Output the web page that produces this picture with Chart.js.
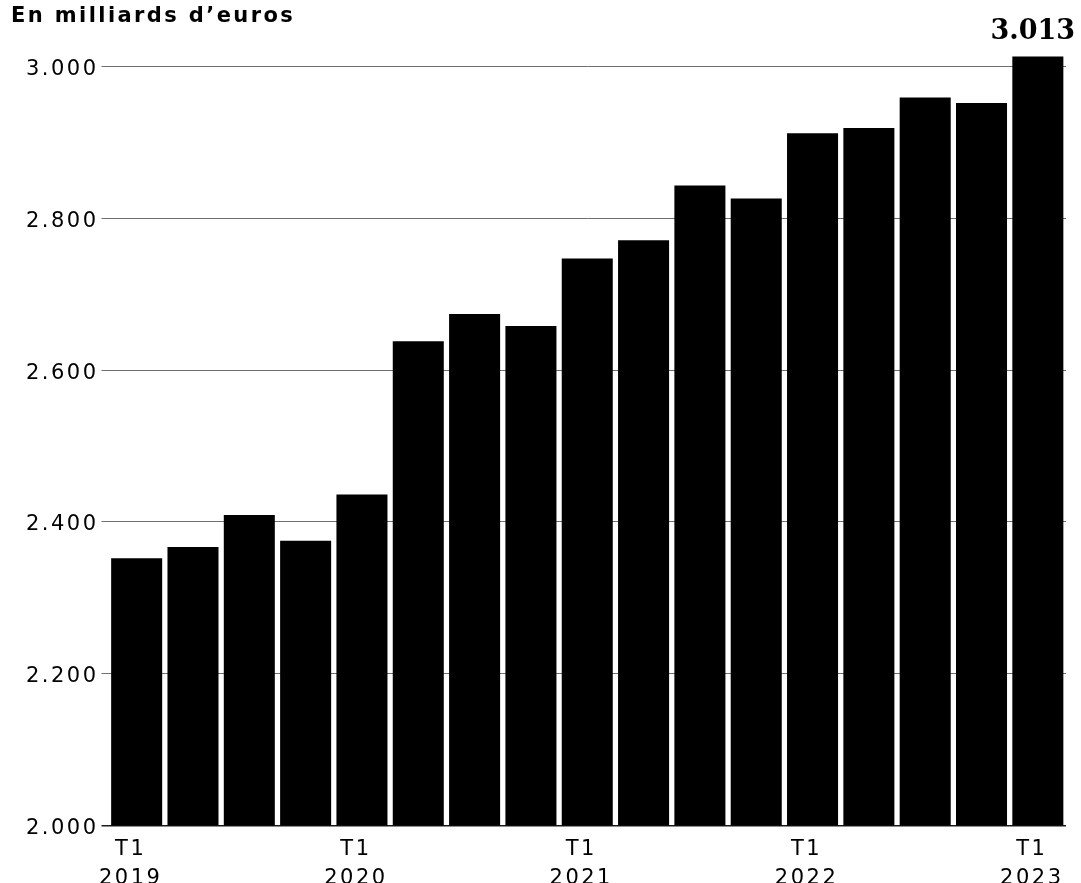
<!DOCTYPE html>
<html>
<head>
<meta charset="utf-8">
<script src="https://cdn.jsdelivr.net/npm/chart.js@4/dist/chart.umd.min.js"></script>
<style>
  html, body { margin: 0; padding: 0; background: #fff; }
  #wrap { width: 1081px; height: 883px; position: relative; }
</style>
</head>
<body>
<div id="wrap"><canvas id="c" width="1081" height="883"></canvas></div>
<script>
const quarters = ['T1','T2','T3','T4','T1','T2','T3','T4','T1','T2','T3','T4','T1','T2','T3','T4','T1'];
const years = ['2019','2019','2019','2019','2020','2020','2020','2020','2021','2021','2021','2021','2022','2022','2022','2022','2023'];
const values = [2352, 2367, 2409, 2375, 2436, 2638, 2674, 2658, 2747, 2771, 2843, 2826, 2912, 2919, 2959, 2952, 3013];
const yTicks = [2000, 2200, 2400, 2600, 2800, 3000];
const titleText = 'En milliards d\u2019euros';

const labels = quarters.map((q, i) => q + ' ' + years[i]);

function fmt(v) {
  return String(Math.round(v)).replace(/\B(?=(\d{3})+(?!\d))/g, '.');
}

const spacingPlugin = {
  id: 'spacing',
  beforeDraw(chart) { chart.ctx.letterSpacing = '2.5px'; },
  beforeDatasetsDraw(chart) { chart.ctx.letterSpacing = '0px'; }
};

const annotPlugin = {
  id: 'annot',
  afterDraw(chart) {
    const ctx = chart.ctx;
    ctx.save();
    // title
    ctx.letterSpacing = '2.4px';
    ctx.fillStyle = '#000';
    ctx.font = 'bold 21px "DejaVu Sans"';
    ctx.textAlign = 'left';
    ctx.textBaseline = 'alphabetic';
    ctx.fillText(titleText, 11, 22);
    // last value label
    const meta = chart.getDatasetMeta(0);
    const last = meta.data[meta.data.length - 1];
    ctx.letterSpacing = '0px';
    ctx.font = 'bold 27px "DejaVu Serif"';
    ctx.textAlign = 'center';
    ctx.textBaseline = 'alphabetic';
    ctx.fillText(fmt(values[values.length - 1]), last.x - 5, last.y - 18);
    ctx.restore();
  }
};

new Chart(document.getElementById('c'), {
  type: 'bar',
  data: {
    labels: labels,
    datasets: [{
      data: values,
      backgroundColor: '#000',
      borderWidth: 0,
      barPercentage: 0.906,
      categoryPercentage: 1.0
    }]
  },
  options: {
    responsive: false,
    animation: false,
    devicePixelRatio: 1,
    layout: { padding: { top: 28.5, right: 15, bottom: 0, left: 0 } },
    plugins: { legend: { display: false }, tooltip: { enabled: false }, title: { display: false } },
    scales: {
      x: {
        grid: { display: false },
        border: { display: false },
        afterFit(scale) { scale.height = 57.5; },
        ticks: {
          autoSkip: false,
          maxRotation: 0,
          minRotation: 0,
          color: '#000',
          padding: 2,
          labelOffset: -6,
          font: { family: '"DejaVu Sans"', size: 21, lineHeight: 1.38 },
          callback(val, idx) {
            return quarters[idx] === 'T1' ? [quarters[idx], years[idx]] : '';
          }
        }
      },
      y: {
        min: 2000,
        max: 3050,
        afterFit(scale) { scale.width = 108.5; },
        afterBuildTicks(scale) {
          scale.ticks = yTicks.map(v => ({ value: v }));
        },
        border: { display: false },
        grid: {
          color: (c) => (c.tick && c.tick.value === 2000) ? '#1a1a1a' : '#6f6f6f',
          lineWidth: (c) => (c.tick && c.tick.value === 2000) ? 1.5 : 1,
          tickLength: 7,
          tickColor: (c) => (c.tick && c.tick.value === 2000) ? '#1a1a1a' : '#6f6f6f'
        },
        ticks: {
          color: '#000',
          padding: 3,
          labelOffset: 3,
          font: { family: '"DejaVu Sans"', size: 21 },
          callback(v) { return fmt(v); }
        }
      }
    }
  },
  plugins: [spacingPlugin, annotPlugin]
});
</script>
</body>
</html>
